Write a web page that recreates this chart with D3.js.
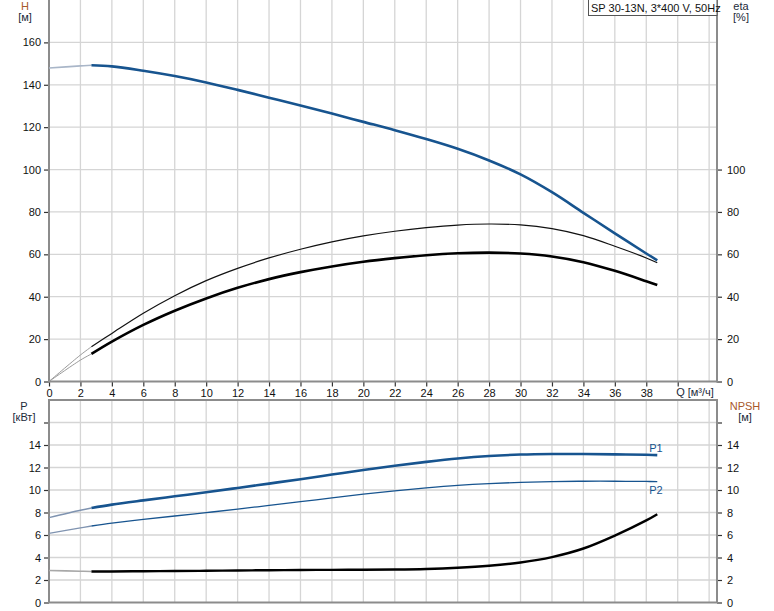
<!DOCTYPE html>
<html><head><meta charset="utf-8">
<script src="https://cdn.jsdelivr.net/npm/d3@7"></script>
<style>body{margin:0;background:#fff}svg{display:block;font-family:"Liberation Sans",Arial,sans-serif}</style>
</head><body><svg id="c" width="774" height="611"></svg>
<script>
// ---- data ----
const flowQ   = [0, 2, 2.7, 4, 6, 8, 10, 12, 14, 16, 18, 20, 22, 24, 26, 28, 30, 32, 34, 36, 38, 38.7];
const headH   = [147.9, 148.9, 149.2, 148.7, 146.6, 144.1, 141.1, 137.6, 133.9, 130.2, 126.4, 122.5, 118.6, 114.4, 109.8, 104.3, 97.7, 89.3, 79.6, 69.9, 60.4, 57.2];
const etaPump = [0, 12.5, 16.4, 22.7, 32.2, 40.5, 47.6, 53.4, 58.3, 62.4, 65.9, 68.7, 70.9, 72.6, 73.8, 74.3, 73.9, 72.1, 68.8, 63.8, 58.3, 56.0];
const etaTot  = [0, 10.1, 13.0, 18.8, 26.7, 33.4, 39.2, 44.2, 48.3, 51.6, 54.3, 56.5, 58.2, 59.6, 60.5, 60.8, 60.4, 59.0, 56.3, 52.2, 47.3, 45.5];
const powerP1 = [7.55, 8.2, 8.4, 8.7, 9.08, 9.44, 9.8, 10.18, 10.57, 10.96, 11.37, 11.78, 12.16, 12.5, 12.8, 13.02, 13.15, 13.2, 13.2, 13.17, 13.13, 13.1];
const powerP2 = [6.15, 6.63, 6.8, 7.05, 7.38, 7.69, 7.99, 8.3, 8.63, 8.96, 9.3, 9.63, 9.93, 10.19, 10.41, 10.57, 10.68, 10.75, 10.78, 10.78, 10.76, 10.75];
const npshR   = [2.85, 2.78, 2.76, 2.76, 2.78, 2.8, 2.82, 2.85, 2.87, 2.89, 2.9, 2.91, 2.93, 2.98, 3.09, 3.27, 3.56, 4.04, 4.8, 5.95, 7.3, 7.85];
const xTicks   = [0,2,4,6,8,10,12,14,16,18,20,22,24,26,28,30,32,34,36,38];
const xGrid    = d3.range(0, 43, 2);
const hTicks   = [0,20,40,60,80,100,120,140,160];
const etaTicks = [0,20,40,60,80,100];
const pTicks   = [0,2,4,6,8,10,12,14,16];
const title = "SP 30-13N, 3*400 V, 50Hz";

// ---- scales ----
const X0 = 49, X1 = 717;
const x = d3.scaleLinear().domain([0, 42.5]).range([X0, X1]);
const yTop = d3.scaleLinear().domain([0, 180]).range([381.5, 0]);
const yBot = d3.scaleLinear().domain([0, 18]).range([602.5, 400]);

const svg = d3.select("#c");
const gridC = "#d5d5d5", axisC = "#8c8c8c", blue = "#17548f";

function panelGrid(y, hvals, yTopPx, yBotPx) {
  const g = svg.append("g");
  g.selectAll(".v").data(xGrid).join("line")
    .attr("x1", d => x(d)).attr("x2", d => x(d)).attr("y1", yTopPx).attr("y2", yBotPx)
    .attr("stroke", gridC).attr("stroke-width", 1.3);
  g.selectAll(".h").data(hvals).join("line")
    .attr("x1", X0).attr("x2", X1).attr("y1", d => y(d)).attr("y2", d => y(d))
    .attr("stroke", gridC).attr("stroke-width", 1.3);
}
panelGrid(yTop, [20,40,60,80,100,120,140,160], 0, 381.5);
panelGrid(yBot, [2,4,6,8,10,12,14,16], 400, 602.5);

// axes
function leftAxis(y, ticks, labels, tx) {
  const ax = d3.axisLeft(y).tickValues(ticks).tickSize(5).tickPadding(3)
    .tickFormat(d => labels.includes(d) ? d : "");
  return svg.append("g").attr("transform", `translate(${tx},0)`).call(ax);
}
function rightAxis(y, ticks, labels, tx) {
  const ax = d3.axisRight(y).tickValues(ticks).tickSize(5).tickPadding(5)
    .tickFormat(d => labels.includes(d) ? d : "");
  return svg.append("g").attr("transform", `translate(${tx},0)`).call(ax);
}
const axes = [
  leftAxis(yTop, hTicks, hTicks, X0),
  rightAxis(yTop, etaTicks, etaTicks, X1),
  leftAxis(yBot, pTicks, [0,2,4,6,8,10,12,14], X0),
  rightAxis(yBot, pTicks, [0,2,4,6,8,10,12,14], X1),
];
const xAx = svg.append("g").attr("transform", "translate(0,381.5)")
  .call(d3.axisBottom(x).tickValues(xTicks.concat([40])).tickSize(5).tickPadding(3)
    .tickFormat(d => d === 40 ? "" : d));
axes.push(xAx);
axes.forEach(g => {
  g.select(".domain").remove();
  g.selectAll(".tick line").attr("stroke", "#333").attr("stroke-width", 1.2);
  g.selectAll(".tick text").attr("fill", "#111").attr("font-size", 11)
    .attr("font-family", '"Liberation Sans",Arial,sans-serif');
});

// frame lines
const fr = svg.append("g").attr("stroke", axisC).attr("stroke-width", 2).attr("fill", "none");
fr.append("line").attr("x1", X0).attr("x2", X0).attr("y1", 0).attr("y2", 382.5);
fr.append("line").attr("x1", X1).attr("x2", X1).attr("y1", 0).attr("y2", 382.5);
fr.append("line").attr("x1", X0 - 1).attr("x2", X1 + 1).attr("y1", 381.5).attr("y2", 381.5);
fr.append("line").attr("x1", X0 - 1).attr("x2", X1 + 1).attr("y1", 400).attr("y2", 400);
fr.append("line").attr("x1", X0).attr("x2", X0).attr("y1", 400).attr("y2", 603);
fr.append("line").attr("x1", X1).attr("x2", X1).attr("y1", 400).attr("y2", 603);
fr.append("line").attr("x1", X0 - 1).attr("x2", X1 + 1).attr("y1", 602.5).attr("y2", 602.5);

// curves
function drawCurve(vals, y, color, w, lightColor, lightW) {
  const pts = flowQ.map((q, i) => [q, vals[i]]);
  const line = d3.line().x(d => x(d[0])).y(d => y(d[1])).curve(d3.curveCatmullRom.alpha(0.5));
  svg.append("path").attr("d", line(pts.slice(0, 3))).attr("fill", "none")
    .attr("stroke", lightColor).attr("stroke-width", lightW);
  svg.append("path").attr("d", line(pts.slice(2))).attr("fill", "none")
    .attr("stroke", color).attr("stroke-width", w).attr("stroke-linecap", "butt");
}
drawCurve(headH, yTop, blue, 2.6, "#a9b6c8", 1.6);
drawCurve(etaPump, yTop, "#111", 1.2, "#9a9a9a", 1);
drawCurve(etaTot, yTop, "#000", 2.6, "#9a9a9a", 1);
drawCurve(powerP1, yBot, blue, 2.6, "#7f93b0", 1.3);
drawCurve(powerP2, yBot, blue, 1.3, "#7f93b0", 1.3);
drawCurve(npshR, yBot, "#000", 2.4, "#a8a8a8", 1.6);

// curve labels
const last = flowQ.length - 1;
svg.append("text").attr("x", x(flowQ[last]) - 8).attr("y", yBot(powerP1[last]) - 3)
  .attr("font-size", 11).attr("fill", blue).text("P1");
svg.append("text").attr("x", x(flowQ[last]) - 8).attr("y", yBot(powerP2[last]) + 12)
  .attr("font-size", 11).attr("fill", blue).text("P2");

// axis titles
const tt = (txt, xx, yy, col) => svg.append("text").attr("x", xx).attr("y", yy)
  .attr("text-anchor", "middle").attr("font-size", 11).attr("fill", col).text(txt);
const orange = "#a8582a", dark = "#222a3a";
tt("H", 25, 10, orange); tt("[м]", 25, 21, dark);
tt("eta", 741, 10, dark); tt("[%]", 741, 21, dark);
tt("P", 24, 410, dark); tt("[кВт]", 24, 421, dark);
tt("NPSH", 745, 410, orange); tt("[м]", 745, 421, dark);
tt("Q [м³/ч]", 695, 396, dark);

// title box
const tb = svg.append("g");
tb.append("rect").attr("x", 588.5).attr("y", -1).attr("width", X1 - 588.5).attr("height", 16.5)
  .attr("fill", "#fff").attr("stroke", "#555").attr("stroke-width", 1);
tb.append("text").attr("x", 591).attr("y", 11.5).attr("font-size", 11).attr("fill", "#111").text(title);
</script></body></html>
